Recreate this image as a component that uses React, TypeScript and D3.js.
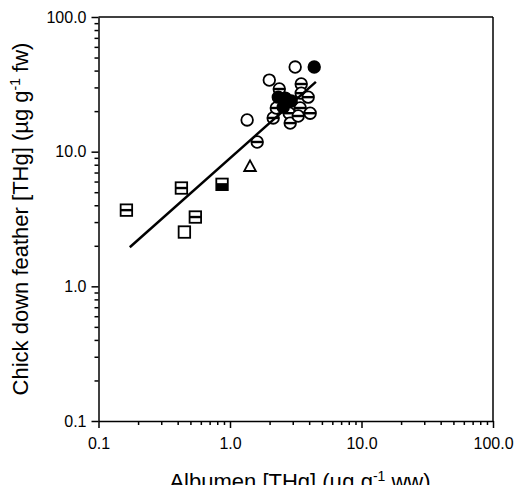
import React, { useEffect, useRef } from 'react';
import * as d3 from 'd3';

// tick values (log decades)
const xMajor = [0.1, 1, 10, 100];
const yMajor = [0.1, 1, 10, 100];

// squares with a bar
const sqBarX = [0.163, 0.427, 0.545];
const sqBarY = [3.68, 5.37, 3.27];
// open square
const sqOpenX = [0.45];
const sqOpenY = [2.53];
// half filled square
const sqHalfX = [0.87];
const sqHalfY = [5.72];
// open triangle
const triX = [1.42];
const triY = [7.8];
// open circles
const circOpenX = [1.35, 1.99, 3.13];
const circOpenY = [17.2, 34.0, 42.5];
// circles with a bar
const circBarX = [1.61, 2.13, 2.25, 2.37, 2.82, 2.87, 3.48, 3.48, 3.93, 3.42, 4.07, 3.3];
const circBarY = [11.8, 17.8, 21.1, 29.2, 19.3, 16.3, 31.8, 27.2, 25.4, 21.1, 19.3, 18.4];
// filled circles
const circFillX = [2.33, 2.63, 2.92, 2.54, 4.37];
const circFillY = [25.4, 25.0, 23.8, 21.4, 42.5];
// regression line end points
const fitX = [0.173, 4.5];
const fitY = [1.95, 33.0];

const W = 532;
const H = 493;

const Chart = () => {
  const ref = useRef<SVGSVGElement>(null);

  useEffect(() => {
    const margin = { top: 17, right: 39, bottom: 72, left: 98.5 };
    const width = W - margin.left - margin.right;
    const height = H - margin.top - margin.bottom;

    const svg = d3.select(ref.current).attr('width', W).attr('height', H);
    svg.selectAll('*').remove();

    const g = svg.append('g').attr('transform', `translate(${margin.left},${margin.top})`);

    const x = d3.scaleLog().domain([0.1, 100]).range([0, width]);
    const y = d3.scaleLog().domain([0.1, 100]).range([height, 0]);
    const fmt = d3.format('.1f');

    const xMinor = x.ticks().filter(v => !xMajor.some(m => Math.abs(m - v) < 1e-9));
    const yMinor = y.ticks().filter(v => !yMajor.some(m => Math.abs(m - v) < 1e-9));

    const font = 'Liberation Sans, Arial, sans-serif';

    // minor ticks
    g.append('g')
      .attr('transform', `translate(0,${height})`)
      .call(d3.axisBottom(x).tickValues(xMinor).tickSize(4).tickFormat(() => ''))
      .call(a => a.select('.domain').remove());
    g.append('g')
      .call(d3.axisLeft(y).tickValues(yMinor).tickSize(4).tickFormat(() => ''))
      .call(a => a.select('.domain').remove());

    // major axes
    const xa = g.append('g')
      .attr('transform', `translate(0,${height})`)
      .call(d3.axisBottom(x).tickValues(xMajor).tickSize(7).tickSizeOuter(0).tickPadding(10).tickFormat(d => fmt(+d)));
    const ya = g.append('g')
      .call(d3.axisLeft(y).tickValues(yMajor).tickSize(7).tickSizeOuter(0).tickPadding(5).tickFormat(d => fmt(+d)));

    [xa, ya].forEach(a => {
      a.selectAll('text').attr('font-family', font).attr('font-size', 16).attr('fill', '#000');
    });
    g.selectAll('.tick line').attr('stroke', '#000').attr('stroke-width', 1.5);
    g.selectAll('.domain').attr('stroke', '#000').attr('stroke-width', 1.5);

    // top and right frame
    g.append('line').attr('x1', 0).attr('x2', width).attr('y1', 0).attr('y2', 0)
      .attr('stroke', '#000').attr('stroke-width', 1.5);
    g.append('line').attr('x1', width).attr('x2', width).attr('y1', 0).attr('y2', height)
      .attr('stroke', '#000').attr('stroke-width', 1.5);

    const pts = (xs: number[], ys: number[]) => xs.map((v, i) => ({ x: v, y: ys[i] }));
    const r = 5.8;
    const s = 11.5;

    // squares
    const sq = (data, kind) => {
      const grp = g.selectAll(null).data(data).enter().append('g')
        .attr('transform', d => `translate(${x(d.x)},${y(d.y)})`);
      grp.append('rect')
        .attr('x', -s / 2).attr('y', -s / 2).attr('width', s).attr('height', s)
        .attr('fill', '#fff').attr('stroke', '#000').attr('stroke-width', 1.8);
      if (kind === 'half') {
        grp.append('rect').attr('x', -s / 2).attr('y', 0.5).attr('width', s).attr('height', s / 2 - 0.5)
          .attr('fill', '#000');
      }
      if (kind !== 'open') {
        grp.append('line').attr('x1', -s / 2).attr('x2', s / 2).attr('y1', 0).attr('y2', 0)
          .attr('stroke', '#000').attr('stroke-width', 2.4);
      }
    };
    sq(pts(sqBarX, sqBarY), 'bar');
    sq(pts(sqOpenX, sqOpenY), 'open');
    sq(pts(sqHalfX, sqHalfY), 'half');

    // triangle
    g.selectAll(null).data(pts(triX, triY)).enter().append('path')
      .attr('transform', d => `translate(${x(d.x)},${y(d.y)})`)
      .attr('d', 'M0,-5.8L5.8,4.8L-5.8,4.8Z')
      .attr('fill', '#fff').attr('stroke', '#000').attr('stroke-width', 1.8);

    // circles
    const circ = (data, kind) => {
      const grp = g.selectAll(null).data(data).enter().append('g')
        .attr('transform', d => `translate(${x(d.x)},${y(d.y)})`);
      grp.append('circle').attr('r', r)
        .attr('fill', kind === 'fill' ? '#000' : '#fff')
        .attr('stroke', '#000').attr('stroke-width', 1.8);
      if (kind === 'bar') {
        grp.append('line').attr('x1', -r).attr('x2', r).attr('y1', 0).attr('y2', 0)
          .attr('stroke', '#000').attr('stroke-width', 2.4);
      }
    };
    circ(pts(circOpenX, circOpenY), 'open');
    circ(pts(circBarX, circBarY), 'bar');
    circ(pts(circFillX, circFillY), 'fill');

    // regression line, drawn over the symbols
    g.append('line')
      .attr('x1', x(fitX[0])).attr('y1', y(fitY[0]))
      .attr('x2', x(fitX[1])).attr('y2', y(fitY[1]))
      .attr('stroke', '#000').attr('stroke-width', 2.5);

    // axis titles
    svg.append('text')
      .attr('x', 300).attr('y', 489)
      .attr('text-anchor', 'middle')
      .attr('font-family', font).attr('font-size', 22)
      .html('Albumen [THg] (µg g<tspan dy="-8" font-size="14">-1</tspan><tspan dy="8"> ww)</tspan>');

    svg.append('text')
      .attr('transform', `translate(28,${margin.top + height / 2}) rotate(-90)`)
      .attr('text-anchor', 'middle')
      .attr('font-family', font).attr('font-size', 22)
      .html('Chick down feather [THg] (µg g<tspan dy="-8" font-size="14">-1</tspan><tspan dy="8"> fw)</tspan>');
  }, []);

  return <svg ref={ref} style={{ display: 'block' }}></svg>;
};

export default function App() {
  return (
    <div style={{ margin: -8 }}>
      <Chart />
    </div>
  );
}
